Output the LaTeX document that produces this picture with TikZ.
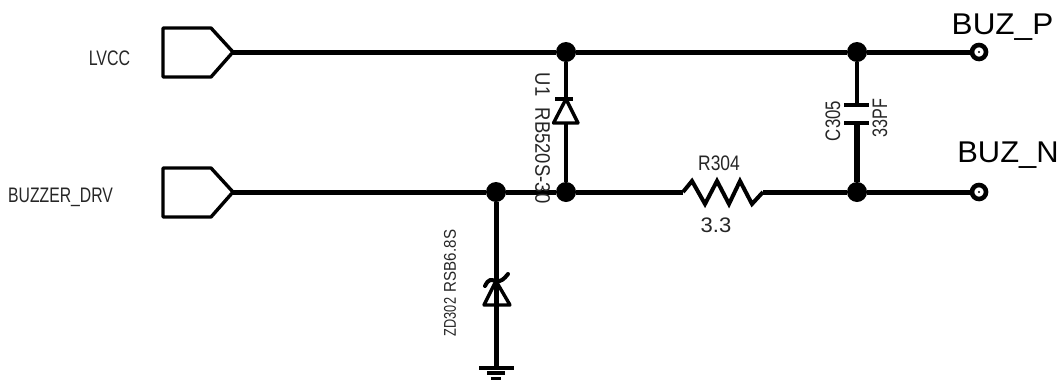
\documentclass[tikz,border=0pt]{standalone}
\usepackage{fontspec}
\setmainfont{Liberation Sans}
\newcommand{\nar}[2]{\scalebox{#1}[1]{#2}}
\tikzset{
 x=1pt,y=-1pt,
 wire/.style={line width=5pt,line join=miter},
 thinwire/.style={line width=4pt},
 outl/.style={line width=3.4pt,line join=round,line cap=round},
 dot/.style={circle,fill=black,inner sep=0pt,minimum size=20pt},
 term/.style={circle,draw=black,fill=white,line width=4.6pt,inner sep=0pt,minimum size=14pt},
 lab/.style={inner sep=0pt,text=black!85,font=\fontsize{21}{21}\selectfont},
 small/.style={inner sep=0pt,text=black!85,font=\fontsize{17}{17}\selectfont},
 big/.style={inner sep=0pt,text=black,font=\fontsize{30}{30}\selectfont},
}
\begin{document}
\begin{tikzpicture}
\useasboundingbox (0,0) rectangle (1063,381);
\coordinate (p1) at (233,52);
\coordinate (p2) at (233,192);
\node[dot] (j1) at (566,52) {};
\node[dot] (j2) at (857,52) {};
\node[dot] (j3) at (496,192) {};
\node[dot] (j4) at (566,192) {};
\node[dot] (j5) at (857,192) {};
\coordinate (r1) at (683,192);
\coordinate (r2) at (763,192);
\coordinate (capa) at (857,105);
\coordinate (capb) at (857,123);
\coordinate (gnd) at (496,368);
\coordinate (da) at (566,99);
\coordinate (db) at (566,123);
% wires
\draw[wire] (p1) -- (j1) -- (j2);
\draw[wire] (p2) -- (j3) -- (j4) -- (r1);
\draw[wire] (r2) -- (j5);
\draw[thinwire] (j1) -- (da);
\draw[thinwire] (db) -- (j4);
\draw[thinwire] (j2) -- (capa);
\draw[line width=5.6pt] (capb) -- (j5);
\draw[line width=5pt] (j3) -- (gnd);
% terminals
\node[term] (t1) at (979,52) {};
\node[term] (t2) at (979,192) {};
\draw[wire] (j2) -- (t1.west);
\draw[wire] (j5) -- (t2.west);
\fill (t1) circle (1.2pt);
\fill (t2) circle (1.2pt);
% ports
\draw[outl] (p1) -- (211,28) -- (163,28) -- (163,77) -- (211,77) -- cycle;
\draw[outl] (p2) -- (211,168) -- (163,168) -- (163,217) -- (211,217) -- cycle;
% U1
\draw[outl,fill=white] (566,99) -- (553.5,123) -- (578,123) -- cycle;
\draw[line width=4pt] (555,99) -- (573,99);
% cap
\draw[line width=4pt] (844,105) -- (869,105);
\draw[line width=4pt] (844,123) -- (869,123);
% resistor
\draw[line width=4pt,line join=miter] (r1) -- (692,181) -- (705,204) -- (717,181) -- (729,204) -- (740,181) -- (752,204) -- (r2);
% zener
\draw[outl,fill=white] (496,281) -- (484,305) -- (510,305) -- cycle;
\draw[line width=5pt] (496,270) -- (496,305);
\draw[line width=4pt,line cap=round] (485,286) .. controls (489,278) and (491,280) .. (496,281) .. controls (501,282) and (504,279) .. (508,274);
% ground
\draw[line width=3.5pt] (479,368) -- (514,368);
\draw[line width=3.5pt] (487,373) -- (505,373);
\draw[line width=3pt] (491,378) -- (501,378);
% labels
\node[lab,anchor=base] (l1) at (109.5,65) {\nar{0.76}{LVCC}};
\node[lab,anchor=base] (l2) at (60.5,202) {\nar{0.75}{BUZZER\_DRV}};
\node[lab,anchor=base] (l3) at (719,170.5) {\nar{0.83}{R304}};
\node[lab,anchor=base] (l4) at (716,232.5) {\nar{1.05}{3.3}};
\node[big,anchor=base] (l5) at (1002.5,34) {\nar{1.05}{BUZ\_P}};
\node[big,anchor=base] (l6) at (1008,162) {\nar{1.03}{BUZ\_N}};
\node[lab,rotate=-90] (l7) at (542.5,138) {\nar{0.88}{U1\hspace{13pt}RB520S-30}};
\node[lab,rotate=90] (l8) at (833,121) {\nar{0.8}{C305}};
\node[lab,rotate=90] (l9) at (880,118) {\nar{0.77}{33PF}};
\node[small,rotate=90] (l10) at (450,317) {\nar{0.75}{ZD302}};
\node[small,rotate=90] (l11) at (450,261) {\nar{0.89}{RSB6.8S}};
\end{tikzpicture}
\end{document}
